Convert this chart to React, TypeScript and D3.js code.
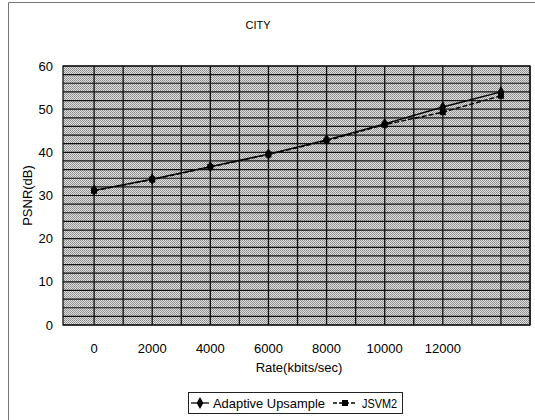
import { useEffect, useRef } from "react";
import * as d3 from "d3";

const rates = [0, 2000, 4000, 6000, 8000, 10000, 12000, 14000];
const adaptive = [31.2, 33.8, 36.7, 39.6, 42.9, 46.6, 50.5, 54.0];
const jsvm2 = [31.1, 33.7, 36.6, 39.5, 42.7, 46.4, 49.3, 53.1];
const xTicks = [0, 2000, 4000, 6000, 8000, 10000, 12000];
const yTicks = [0, 10, 20, 30, 40, 50, 60];

const W = 535;
const H = 420;
const P = { left: 63, right: 530, top: 66, bottom: 325 };
const FONT = "'Liberation Sans', Arial, sans-serif";

export default function App() {
  const svgRef = useRef<SVGSVGElement | null>(null);

  useEffect(() => {
    if (!svgRef.current) return;
    const svg = d3.select(svgRef.current);
    svg.selectAll("*").remove();

    const x = d3.scaleLinear().domain([-1070, 15000]).range([P.left, P.right]);
    const y = d3.scaleLinear().domain([0, 60]).range([P.bottom, P.top]);

    // halftone-ish fill of the scanned plot area
    const pat = svg.append("defs").append("pattern")
      .attr("id", "dither").attr("width", 2).attr("height", 2)
      .attr("patternUnits", "userSpaceOnUse");
    pat.append("rect").attr("width", 2).attr("height", 2).attr("fill", "#dedede");
    pat.append("rect").attr("width", 1).attr("height", 1).attr("fill", "#8c8c8c");
    pat.append("rect").attr("x", 1).attr("y", 1).attr("width", 1).attr("height", 1).attr("fill", "#9a9a9a");

    // chart border (scan edge)
    svg.append("path")
      .attr("d", `M8.5,${H} V2.5 H${W}`)
      .attr("fill", "none").attr("stroke", "#777").attr("stroke-width", 1);

    svg.append("text")
      .attr("x", 258).attr("y", 29)
      .attr("font-family", FONT).attr("font-size", 11).attr("text-anchor", "middle")
      .text("CITY");

    svg.append("rect")
      .attr("x", P.left).attr("y", P.top)
      .attr("width", P.right - P.left).attr("height", P.bottom - P.top)
      .attr("fill", "url(#dither)");

    const g = svg.append("g");
    for (let v = 0; v <= 60; v += 2) {
      g.append("line")
        .attr("x1", P.left).attr("x2", P.right)
        .attr("y1", y(v)).attr("y2", y(v))
        .attr("stroke", "#111").attr("stroke-width", 1.2);
    }
    for (let v = 0; v <= 15000; v += 1000) {
      g.append("line")
        .attr("x1", x(v)).attr("x2", x(v))
        .attr("y1", P.top).attr("y2", P.bottom)
        .attr("stroke", "#111").attr("stroke-width", 1.3);
    }
    g.append("rect")
      .attr("x", P.left).attr("y", P.top)
      .attr("width", P.right - P.left).attr("height", P.bottom - P.top)
      .attr("fill", "none").attr("stroke", "#111").attr("stroke-width", 1.3);

    // axes labels
    svg.append("g").selectAll("text").data(yTicks).join("text")
      .attr("x", 53).attr("y", d => y(d)).attr("dy", "0.35em")
      .attr("text-anchor", "end").attr("font-family", FONT).attr("font-size", 13)
      .text(d => d);

    svg.append("g").selectAll("text").data(xTicks).join("text")
      .attr("x", d => x(d)).attr("y", 353)
      .attr("text-anchor", "middle").attr("font-family", FONT).attr("font-size", 13)
      .text(d => d);

    svg.append("text")
      .attr("transform", `translate(32,${(P.top + P.bottom) / 2}) rotate(-90)`)
      .attr("text-anchor", "middle").attr("font-family", FONT).attr("font-size", 13)
      .text("PSNR(dB)");

    svg.append("text")
      .attr("x", 299).attr("y", 372)
      .attr("text-anchor", "middle").attr("font-family", FONT).attr("font-size", 13)
      .text("Rate(kbits/sec)");

    // series
    const line = (vals: number[]) =>
      d3.line<number>().x((_, i) => x(rates[i])).y(d => y(d))(vals);

    svg.append("path").attr("d", line(jsvm2)).attr("fill", "none")
      .attr("stroke", "#000").attr("stroke-width", 1.4).attr("stroke-dasharray", "5,2");
    svg.append("path").attr("d", line(adaptive)).attr("fill", "none")
      .attr("stroke", "#000").attr("stroke-width", 1.4);

    const diamond = d3.symbol().type(d3.symbolDiamond).size(40);
    const square = d3.symbol().type(d3.symbolSquare).size(36);

    svg.append("g").selectAll("path").data(jsvm2).join("path")
      .attr("transform", (d, i) => `translate(${x(rates[i])},${y(d)})`)
      .attr("d", square()).attr("fill", "#000");
    svg.append("g").selectAll("path").data(adaptive).join("path")
      .attr("transform", (d, i) => `translate(${x(rates[i])},${y(d)})`)
      .attr("d", diamond()).attr("fill", "#000");

    // legend
    const lg = svg.append("g");
    lg.append("rect")
      .attr("x", 188.5).attr("y", 392.5).attr("width", 214).attr("height", 21)
      .attr("fill", "#fff").attr("stroke", "#222").attr("stroke-width", 1);
    lg.append("line").attr("x1", 191).attr("x2", 209).attr("y1", 403).attr("y2", 403)
      .attr("stroke", "#000").attr("stroke-width", 1.3);
    lg.append("path").attr("transform", "translate(200,403)").attr("d", diamond()).attr("fill", "#000");
    lg.append("text").attr("x", 213).attr("y", 407.5)
      .attr("font-family", FONT).attr("font-size", 13)
      .attr("textLength", 112).attr("lengthAdjust", "spacingAndGlyphs")
      .text("Adaptive Upsample");
    lg.append("line").attr("x1", 333).attr("x2", 357).attr("y1", 403).attr("y2", 403)
      .attr("stroke", "#000").attr("stroke-width", 1.3).attr("stroke-dasharray", "4,2");
    lg.append("path").attr("transform", "translate(345,403)").attr("d", square()).attr("fill", "#000");
    lg.append("text").attr("x", 362).attr("y", 407.5)
      .attr("font-family", FONT).attr("font-size", 13)
      .attr("textLength", 35).attr("lengthAdjust", "spacingAndGlyphs")
      .text("JSVM2");
  }, []);

  return (
    <svg ref={svgRef} width={W} height={H}
      style={{ position: "absolute", left: 0, top: 0, background: "#fff", display: "block" }} />
  );
}
